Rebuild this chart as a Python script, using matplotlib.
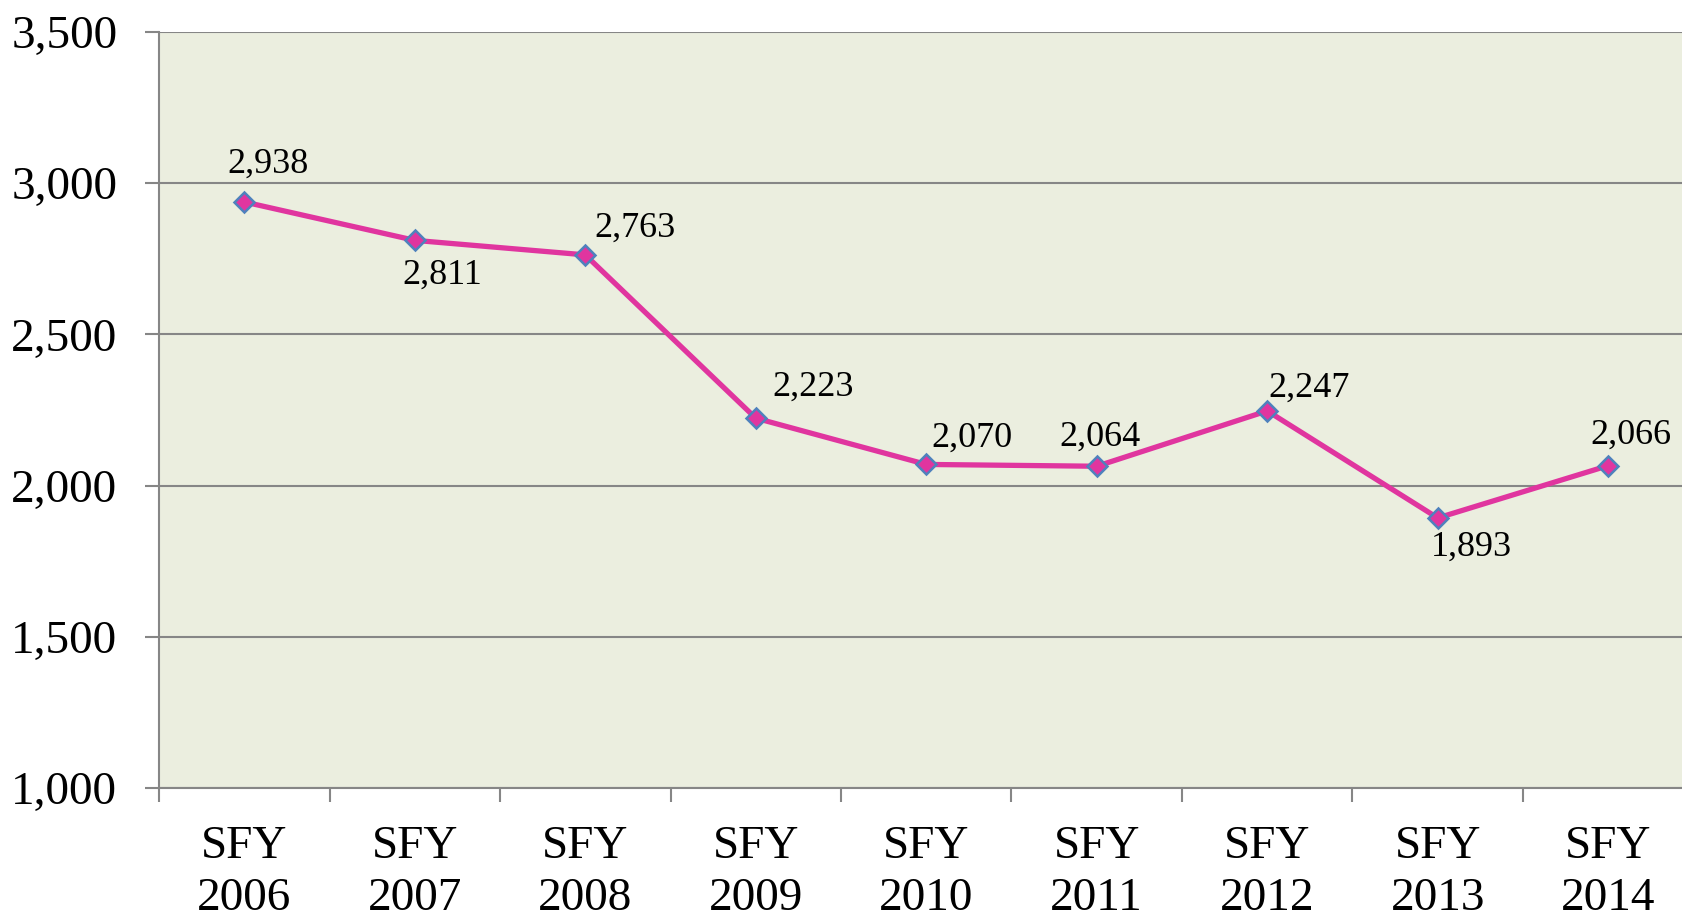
import matplotlib
matplotlib.use("Agg")
import matplotlib.pyplot as plt

years = ["SFY\n2006", "SFY\n2007", "SFY\n2008", "SFY\n2009", "SFY\n2010",
         "SFY\n2011", "SFY\n2012", "SFY\n2013", "SFY\n2014"]
values = [2938, 2811, 2763, 2223, 2070, 2064, 2247, 1893, 2066]
yticks = [1000, 1500, 2000, 2500, 3000, 3500]

# label offsets in points (dx, dy)
offsets = [(17, 27), (20, -25), (36, 19), (41, 22), (33, 19),
           (2, 21), (30, 16), (24, -21), (16, 22)]

plt.rcParams['font.family'] = ['Liberation Serif', 'DejaVu Serif']

fig = plt.figure(figsize=(16.82, 9.19), dpi=100)
ax = fig.add_axes([159 / 1682, 131 / 919, 1534.5 / 1682, 756 / 919])
ax.set_facecolor('#EBEEDF')

x = list(range(len(values)))
ax.plot(x, values, color='#E0359F', linewidth=3.8, marker='D', markersize=10,
        markerfacecolor='#E0359F', markeredgecolor='#4F81BD', markeredgewidth=1.8,
        zorder=3)

for xi, v, (dx, dy) in zip(x, values, offsets):
    ax.annotate(f"{v:,}", (xi, v), xytext=(dx, dy), textcoords='offset points',
                ha='center', va='center', fontsize=26, color='black')

ax.set_xlim(-0.5, len(values) - 0.5)
ax.set_ylim(1000, 3500)
ax.set_yticks(yticks)
ax.set_yticklabels([f"{t:,}" for t in yticks])
ax.yaxis.grid(True, color='#868686', linewidth=1.5)
ax.set_axisbelow(True)

ax.set_xticks([i + 0.5 for i in range(-1, len(values))], minor=False)
ax.set_xticklabels([])
ax.set_xticks(x, minor=True)
ax.set_xticklabels(years, minor=True, linespacing=1.3)
ax.tick_params(axis='x', which='major', length=10, width=1.5, color='#868686', direction='out')
ax.tick_params(axis='x', which='minor', length=0, pad=27, labelsize=34)
ax.tick_params(axis='y', length=10, width=1.5, color='#868686', pad=20, labelsize=34)

for s in ['top', 'right']:
    ax.spines[s].set_visible(False)
for s in ['left', 'bottom']:
    ax.spines[s].set_color('#868686')
    ax.spines[s].set_linewidth(1.5)

fig.savefig('out.png', dpi=100)
